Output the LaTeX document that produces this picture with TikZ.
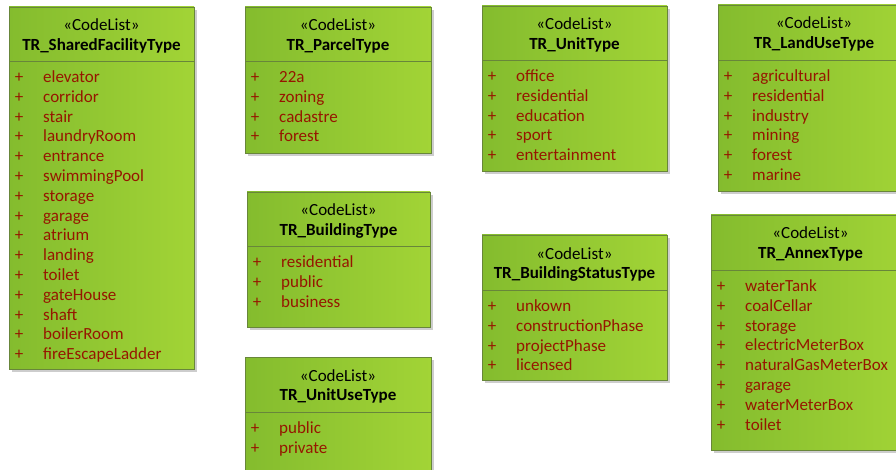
\documentclass[tikz,border=0pt]{standalone}
\usepackage{fontspec}
\setmainfont{Carlito}
\definecolor{clgreenleft}{RGB}{132,188,46}
\definecolor{clgreenright}{RGB}{162,212,54}
\definecolor{clborder}{RGB}{104,134,58}
\definecolor{clitem}{RGB}{150,22,0}
\definecolor{clshadow}{RGB}{205,205,205}

\tikzset{
  stereo/.style={font=\fontsize{17}{19}\selectfont, inner sep=0pt, anchor=base},
  classname/.style={font=\fontsize{17}{19}\selectfont\bfseries, inner sep=0pt, anchor=base},
  plussign/.style={font=\fontsize{17}{19}\selectfont, text=clitem, inner sep=0pt, anchor=base},
  literal/.style={font=\fontsize{17}{19}\selectfont, text=clitem, anchor=base west, inner sep=0pt},
}

% id, left, top, right, bottom, separator, name, literals
\newcommand{\codelistbox}[8]{
  \fill[clshadow] (#2+3,#3+3) rectangle (#4+3,#5+3);
  \shade[left color=clgreenleft, right color=clgreenright] (#2,#3) rectangle (#4,#5);
  \draw[clborder] (#2,#3) rectangle (#4,#5);
  \draw[clborder] (#2,#6) -- (#4,#6);
  \node[stereo] (#1-st) at ({(#2+#4)/2},#3+24) {«CodeList»};
  \node[classname] (#1-name) at ({(#2+#4)/2},#3+43.5) {#7};
  \foreach \entry [count=\i] in {#8}{
    \node[plussign] (#1-p\i) at (#2+10,{#6+21.5+19.8*(\i-1)}) {+};
    \node[literal] (#1-l\i) at (#2+34,{#6+21.5+19.8*(\i-1)}) {\entry};
  }
}

\begin{document}
\begin{tikzpicture}[x=1pt,y=-1pt]
  \useasboundingbox (0,0) rectangle (896,470);
  \fill[white] (0,0) rectangle (896,470);

  \codelistbox{shared}{9}{7}{194}{369}{61}{TR\_SharedFacilityType}
    {elevator,corridor,stair,laundryRoom,entrance,swimmingPool,storage,garage,atrium,landing,toilet,gateHouse,shaft,boilerRoom,fireEscapeLadder}
  \codelistbox{parcel}{245}{7}{431}{153}{61}{TR\_ParcelType}
    {22a,zoning,cadastre,forest}
  \codelistbox{unit}{482}{6}{667}{171}{60}{TR\_UnitType}
    {office,residential,education,sport,entertainment}
  \codelistbox{landuse}{718}{5}{910}{191}{60}{TR\_LandUseType}
    {agricultural,residential,industry,mining,forest,marine}
  \codelistbox{building}{247}{192}{430}{327}{246}{TR\_BuildingType}
    {residential,public,business}
  \codelistbox{unituse}{245}{357}{431}{490}{412}{TR\_UnitUseType}
    {public,private}
  \codelistbox{status}{482}{235}{667}{380}{290}{TR\_BuildingStatusType}
    {unkown,constructionPhase,projectPhase,licensed}
  \codelistbox{annex}{711}{215}{910}{450}{270}{TR\_AnnexType}
    {waterTank,coalCellar,storage,electricMeterBox,naturalGasMeterBox,garage,waterMeterBox,toilet}
\end{tikzpicture}
\end{document}
